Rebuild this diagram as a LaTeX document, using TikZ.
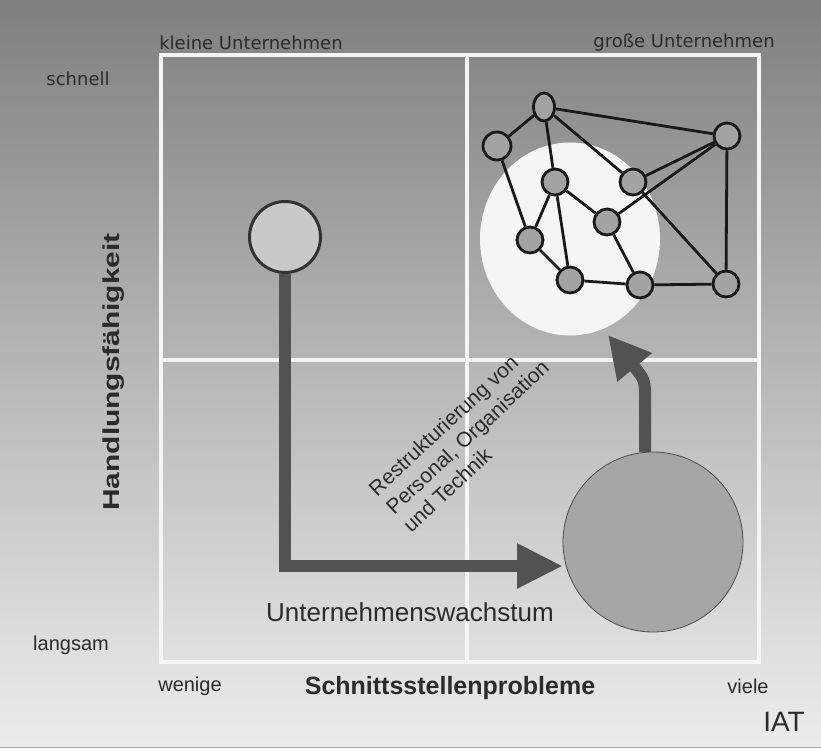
\documentclass[tikz,border=0pt]{standalone}
\usepackage{fontspec}
\setmainfont{Liberation Sans}
\newfontfamily\dvsans{DejaVu Sans}
\usetikzlibrary{arrows.meta,shapes.geometric}
\definecolor{bgtop}{gray}{0.50}
\definecolor{bgmid}{gray}{0.72}
\definecolor{bgbot}{gray}{0.93}
\definecolor{inkc}{gray}{0.17}
\definecolor{arrowc}{gray}{0.32}
\definecolor{netline}{gray}{0.10}
\definecolor{netfill}{gray}{0.64}
\definecolor{cloudc}{gray}{0.96}
\definecolor{smallfill}{gray}{0.79}
\definecolor{smalldraw}{gray}{0.20}
\definecolor{bigfill}{gray}{0.65}
\definecolor{bigdraw}{gray}{0.30}
\definecolor{gridc}{gray}{0.96}
\begin{document}
\begin{tikzpicture}[x=1pt,y=-1pt,
  gridline/.style={draw=gridc,line width=4pt},
  netnode/.style={circle,draw=netline,line width=2.8pt,fill=netfill,minimum size=26pt,inner sep=0pt},
  netedge/.style={draw=netline,line width=2.8pt},
  lbl/.style={text=inkc,inner sep=0pt},
  bigarrow/.style={draw=arrowc,line width=12pt}]
\useasboundingbox (0,0) rectangle (821,751);
\shade[top color=bgtop,bottom color=bgbot,middle color=bgmid] (0,0) rectangle (821,751);
\fill[white] (0,748) rectangle (821,751);
\draw[gray!70,line width=1pt] (0,747.5) -- (821,747.5);

% grid
\draw[gridline] (161,55) rectangle (759,662);
\draw[gridline] (467,55) -- (467,662);
\draw[gridline] (161,360) -- (759,360);

% white cloud behind network
\node[ellipse,fill=cloudc,minimum width=180pt,minimum height=193pt,inner sep=0pt] (cloud) at (570,239) {};

% network
\node[netnode,ellipse,minimum width=21pt,minimum height=28pt] (nA) at (544,107) {};
\node[netnode,minimum size=28pt] (nB) at (497,146) {};
\node[netnode] (nC) at (727,136) {};
\node[netnode] (nD) at (555,182) {};
\node[netnode] (nE) at (633,182) {};
\node[netnode] (nF) at (607,222) {};
\node[netnode] (nG) at (530,240) {};
\node[netnode] (nH) at (570,280) {};
\node[netnode] (nI) at (640,285) {};
\node[netnode] (nJ) at (726,284) {};
\draw[netedge] (nA) -- (nB);
\draw[netedge] (nA) -- (nC);
\draw[netedge] (nA) -- (nD);
\draw[netedge] (nA) -- (nE);
\draw[netedge] (nB) -- (nG);
\draw[netedge] (nD) -- (nG);
\draw[netedge] (nD) -- (nH);
\draw[netedge] (nD) -- (nF);
\draw[netedge] (nE) -- (nC);
\draw[netedge] (nF) -- (nC);
\draw[netedge] (nE) -- (nJ);
\draw[netedge] (nF) -- (nI);
\draw[netedge] (nG) -- (nH);
\draw[netedge] (nH) -- (nI);
\draw[netedge] (nI) -- (nJ);
\draw[netedge] (nC) -- (nJ);

% small and big circle
\node[circle,draw=smalldraw,line width=3pt,fill=smallfill,minimum size=71pt,inner sep=0pt] (small) at (285,237) {};
\node[circle,draw=bigdraw,line width=0.8pt,fill=bigfill,minimum size=180pt,inner sep=0pt] (big) at (653,542) {};

% arrows
\coordinate (t1) at (563,566);
\draw[bigarrow,-{Triangle[width=42pt,length=46pt]}] (small.south) |- (t1);
\coordinate (t2) at (608,335);
\draw[bigarrow,-{Triangle[width=42pt,length=42pt]}] (big.95) -- ++(0,-50) .. controls +(0,-22) .. (t2);

% texts
\node[lbl,font=\dvsans\fontsize{18}{20}\selectfont] (kleine) at (251,43) {kleine Unternehmen};
\node[lbl,font=\dvsans\fontsize{18}{20}\selectfont] (gross) at (684,43) {große Unternehmen};
\node[lbl,font=\dvsans\fontsize{18}{20}\selectfont] (schnell) at (78,79) {schnell};
\node[lbl,rotate=90,font=\bfseries\fontsize{23}{26}\selectfont] (handl) at (114,372) {\scalebox{1.3}[1]{Handlungsfähigkeit}};
\node[lbl,rotate=43,anchor=west,align=left,font=\fontsize{21}{25}\selectfont] (restr) at (389,510) {Restrukturierung von\\Personal, Organisation\\und Technik};
\node[lbl,font=\fontsize{26}{30}\selectfont] (wachstum) at (410,612) {Unternehmenswachstum};
\node[lbl,font=\fontsize{20}{24}\selectfont] (langsam) at (71,645) {langsam};
\node[lbl,font=\fontsize{20}{24}\selectfont] (wenige) at (190,686) {wenige};
\node[lbl,font=\bfseries\fontsize{25}{30}\selectfont] (schnitt) at (450,688) {Schnittsstellenprobleme};
\node[lbl,font=\fontsize{20}{24}\selectfont] (viele) at (748,686) {viele};
\node[lbl,font=\fontsize{28}{32}\selectfont] (iat) at (784,722) {IAT};
\end{tikzpicture}
\end{document}
